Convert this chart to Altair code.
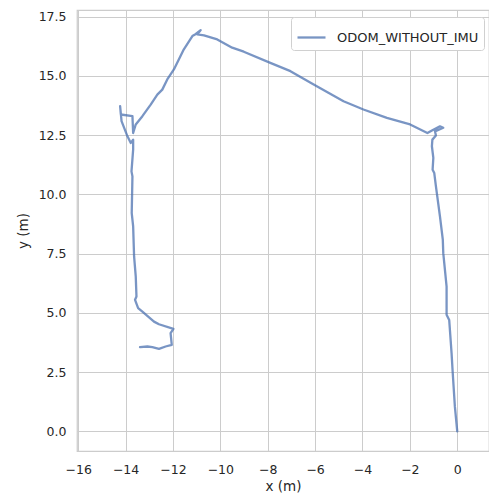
import altair as alt
import pandas as pd

xs = [0.0, -0.10, -0.19, -0.24, -0.34, -0.45, -0.45, -0.59, -0.61, -0.73, -0.90, -0.97, -1.04,
      -1.01, -1.07, -1.05, -0.90, -0.94, -0.59, -0.73, -1.01, -1.26,
      -1.99, -2.97, -3.96, -4.80, -6.06, -7.04, -7.89, -9.01, -9.50, -10.13, -10.69, -10.97,
      -10.83, -11.05, -11.18,
      -11.54, -11.96, -12.24, -12.45, -12.66, -12.94, -13.29, -13.57, -13.68, -13.71, -14.20,
      -14.23, -14.17, -13.92, -13.78, -13.68,
      -13.68, -13.75, -13.71, -13.74, -13.68, -13.64, -13.57, -13.54, -13.60, -13.47, -13.29,
      -12.80, -12.59, -11.98, -12.10, -12.05, -12.31, -12.59, -12.87, -13.08, -13.39]
ys = [0.0, 1.04, 2.45, 3.30, 4.70, 4.92, 6.11, 7.52, 8.09, 9.07, 10.34, 10.90, 11.04,
      11.54, 12.03, 12.31, 12.48, 12.66, 12.81, 12.87, 12.73, 12.59,
      12.95, 13.23, 13.58, 13.93, 14.64, 15.20, 15.55, 16.02, 16.19, 16.54, 16.71, 16.75,
      16.93, 16.76, 16.68,
      16.12, 15.27, 14.85, 14.42, 14.21, 13.79, 13.30, 12.95, 12.59, 13.30, 13.37,
      13.72, 13.09, 12.45, 12.17, 12.31,
      11.89, 10.97, 10.76, 9.21, 8.65, 7.38, 6.53, 5.69, 5.55, 5.20, 5.05,
      4.63, 4.52, 4.32, 4.14, 3.65, 3.58, 3.48, 3.55, 3.58, 3.55]

series_name = "ODOM_WITHOUT_IMU"
x_ticks = [-16, -14, -12, -10, -8, -6, -4, -2, 0]
y_ticks = [0.0, 2.5, 5.0, 7.5, 10.0, 12.5, 15.0, 17.5]

df = pd.DataFrame({"x": xs, "y": ys, "i": list(range(len(xs))), "series": series_name})

FONT = "DejaVu Sans"
TXT = "#262626"

chart = alt.Chart(df).mark_line(
    strokeWidth=2.3, opacity=0.75, strokeJoin="round", strokeCap="round"
).encode(
    x=alt.X("x:Q",
            scale=alt.Scale(domain=[-16.05, 1.34], nice=False, zero=False),
            axis=alt.Axis(values=x_ticks, format="d", title="x (m)",
                          labelPadding=12, titlePadding=4)),
    y=alt.Y("y:Q",
            scale=alt.Scale(domain=[-0.83, 17.78], nice=False, zero=False),
            axis=alt.Axis(values=y_ticks, format=".1f", title="y (m)",
                          labelPadding=11, titlePadding=8)),
    order="i:Q",
    color=alt.Color("series:N", scale=alt.Scale(range=["#4c72b0"]),
                    legend=alt.Legend(title=None, orient="none", legendX=214, legendY=7,
                                      symbolType="stroke", symbolSize=784,
                                      symbolStrokeWidth=2.3, symbolOpacity=0.75,
                                      labelOffset=10, labelFontSize=13, labelFont=FONT,
                                      labelColor=TXT, padding=5, strokeColor="#d0d0d0",
                                      fillColor="#ffffff", cornerRadius=3)),
).properties(
    width=412, height=441,
    autosize=alt.AutoSizeParams(type="none"),
    padding={"left": 69, "top": 2, "right": 0, "bottom": 45},
).configure(
    background="white"
).configure_view(
    stroke="#cccccc", strokeWidth=1.25
).configure_axis(
    domain=False, ticks=False, grid=True, gridColor="#cccccc", gridWidth=1,
    labelFont=FONT, labelFontSize=12.5, labelColor=TXT,
    titleFont=FONT, titleFontSize=13.5, titleColor=TXT, titleFontWeight="normal",
)

chart.save("out.html", embed_options={"renderer": "svg", "actions": False})
